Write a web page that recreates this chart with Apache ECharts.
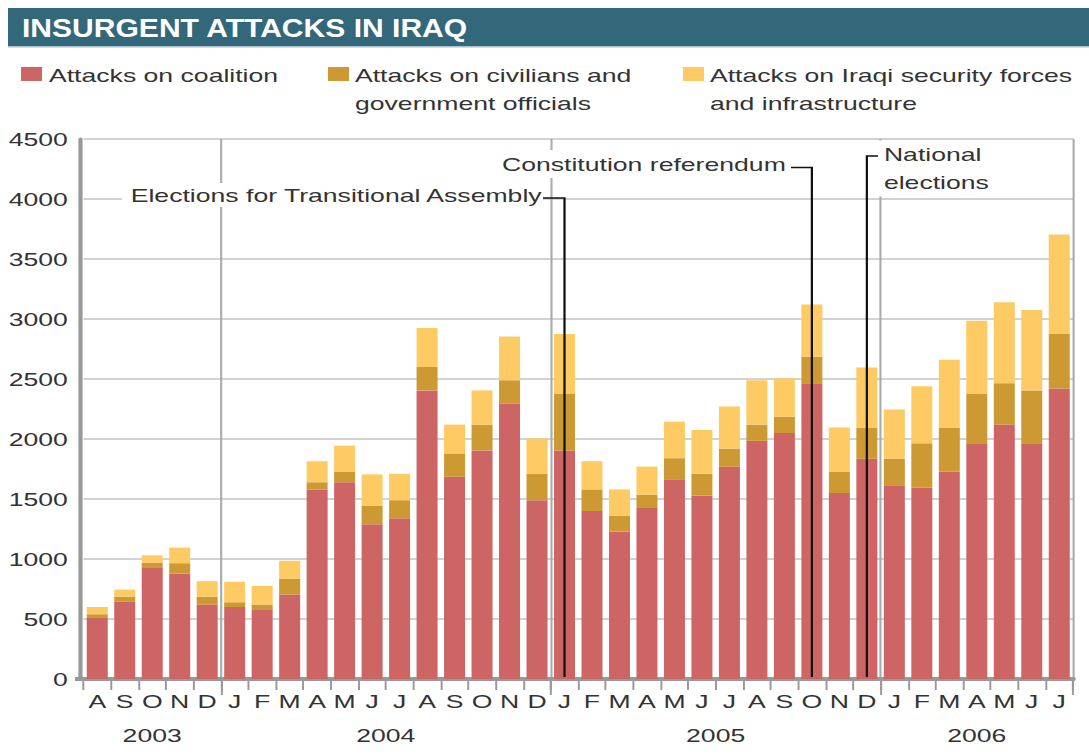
<!DOCTYPE html>
<html><head><meta charset="utf-8">
<script src="https://cdn.jsdelivr.net/npm/echarts@6/dist/echarts.min.js"></script>
<style>
html,body{margin:0;padding:0;background:#fff;overflow:hidden;}
#wrap{width:1089px;height:755px;overflow:hidden;position:relative;}
#chart{width:778px;height:755px;transform:scaleX(1.399743);transform-origin:0 0;}
</style></head><body><div id="wrap"><div id="chart"></div></div>
<script>
// ---------- DATA ----------
const categories = ['2003-08','2003-09','2003-10','2003-11','2003-12',
  '2004-01','2004-02','2004-03','2004-04','2004-05','2004-06','2004-07','2004-08','2004-09','2004-10','2004-11','2004-12',
  '2005-01','2005-02','2005-03','2005-04','2005-05','2005-06','2005-07','2005-08','2005-09','2005-10','2005-11','2005-12',
  '2006-01','2006-02','2006-03','2006-04','2006-05','2006-06','2006-07'];
const monthLabels = ['A','S','O','N','D',
  'J','F','M','A','M','J','J','A','S','O','N','D',
  'J','F','M','A','M','J','J','A','S','O','N','D',
  'J','F','M','A','M','J','J'];
const coalition = [515,645,925,880,620, 600,575,705,1580,1640,1290,1340,2405,1685,1905,2295,1490,
  1905,1400,1230,1425,1665,1530,1770,1985,2050,2465,1550,1835, 1615,1595,1730,1965,2120,1965,2420];
const civilians = [25,40,45,85,65, 40,45,130,60,85,155,150,195,195,215,195,220,
  470,180,130,110,175,180,150,135,135,220,175,260, 220,370,365,415,345,440,455];
const iraqiForces = [60,60,60,130,130, 170,155,150,175,220,260,220,325,240,285,365,295,
  500,235,220,235,305,365,350,370,320,435,370,500, 410,475,565,605,675,670,830];
const yearLabels = ['2003','2004','2005','2006'];
const yearStarts = [0,5,17,29];
const seriesNames = ['Attacks on coalition','Attacks on civilians and\ngovernment officials','Attacks on Iraqi security forces\nand infrastructure'];
const eventLabels = ['Elections for Transitional Assembly','Constitution referendum','National\nelections'];
const eventIndex = [17,26,28];
const yTicks = {min:0, max:4500, interval:500};
const titleText = 'INSURGENT ATTACKS IN IRAQ';

// ---------- LAYOUT ----------
const W = 778, S = 1089 / W;
const X = o => o / S;
const FONT = '"Liberation Sans", Arial, sans-serif';
const colors = ['#CD6565','#CC9933','#FECA63'];

const chart = echarts.init(document.getElementById('chart'), null, {renderer:'svg', width:W, height:755});

const option = {
  animation:false,
  textStyle:{fontFamily:FONT},
  grid:{left:X(83.5), right:W - X(1073), top:139, bottom:76, containLabel:false, outerBoundsMode:'none'},
  xAxis:[{
    type:'category', data:categories, boundaryGap:true,
    axisLine:{show:true, lineStyle:{color:'#999', width:4}},
    axisTick:{show:true, length:11, lineStyle:{color:'#999', width:1.4}},
    axisLabel:{interval:0, formatter:(v,i)=>monthLabels[i], color:'#333', fontSize:19, margin:13, fontFamily:FONT},
    splitLine:{show:false}
  },{
    type:'category', data:categories, position:'bottom', boundaryGap:true,
    axisLine:{show:false},
    axisTick:{show:true, length:16, interval:(i)=>yearStarts.indexOf(i)>0, lineStyle:{color:'#999', width:1.4}},
    axisLabel:{show:false},
    splitLine:{show:true, interval:(i)=>yearStarts.indexOf(i)>0, lineStyle:{color:'#aaa', width:1.5}}
  }],
  yAxis:{
    type:'value', min:yTicks.min, max:yTicks.max, interval:yTicks.interval,
    offset:X(83.5)-X(80.5),
    axisLine:{show:true, lineStyle:{color:'#999', width:3}},
    axisTick:{show:false},
    axisLabel:{color:'#333', fontSize:19, margin:9, fontFamily:FONT, formatter:v=>String(v)},
    splitLine:{show:true, lineStyle:{color:'#d2d2d2', width:2}}
  },
  series:[
    {name:seriesNames[0], type:'bar', stack:'a', data:coalition, barWidth:X(21), itemStyle:{color:colors[0]}},
    {name:seriesNames[1], type:'bar', stack:'a', data:civilians, barWidth:X(21), itemStyle:{color:colors[1]}},
    {name:seriesNames[2], type:'bar', stack:'a', data:iraqiForces, barWidth:X(21), itemStyle:{color:colors[2]}}
  ]
};
chart.setOption(option);

// ---------- GRAPHICS (title, legend, year labels, annotations) ----------
const px = i => chart.convertToPixel({xAxisIndex:0}, i);
const y0 = chart.convertToPixel({yAxisIndex:0}, 0);
const g = [];
// title bar
g.push({type:'rect', shape:{x:X(8), y:8, width:W - X(8), height:38}, style:{fill:'#33677A'}, z:10});
g.push({type:'rect', shape:{x:X(8), y:46, width:W - X(8), height:1.5}, style:{fill:'#A9C1CB'}, z:10});
g.push({type:'text', z:11, x:X(22), y:28, scaleX:0.826, style:{text:titleText, x:0, y:0, fill:'#fff', font:'bold 26px "Liberation Sans", sans-serif', align:'left', verticalAlign:'middle'}});
// legend
const legX = [[21,49],[328,355],[683,710]];
seriesNames.forEach((n,k)=>{
  g.push({type:'rect', shape:{x:X(legX[k][0]), y:67, width:X(21), height:14}, style:{fill:colors[k]}, z:10});
  g.push({type:'text', z:10, style:{text:n, x:X(legX[k][1]), y:61, fill:'#333', font:'19px '+FONT, lineHeight:28, align:'left', verticalAlign:'top'}});
});
// year labels
yearStarts.forEach((s,k)=>{
  const e = (k+1<yearStarts.length ? yearStarts[k+1] : categories.length) - 1;
  const cx = (px(s)+px(e))/2;
  g.push({type:'text', z:10, style:{text:yearLabels[k], x:cx, y:735, fill:'#333', font:'19px '+FONT, align:'center', verticalAlign:'middle'}});
});
// x-axis line extension to the left
g.push({type:'rect', shape:{x:X(75), y:y0-2, width:X(84)-X(75), height:4}, style:{fill:'#999'}, z:10});
// annotations
const ax = eventIndex.map(px);
const lineStyle = {stroke:'#111', lineWidth:1.6, fill:null};
g.push({type:'text', z:50, style:{text:eventLabels[0], x:X(543), y:195, fill:'#333', font:'19px '+FONT, align:'right', verticalAlign:'middle', backgroundColor:'#fff', padding:[2,1,3,5]}});
g.push({type:'polyline', z:51, shape:{points:[[X(543),198],[ax[0],198],[ax[0],y0-2]]}, style:lineStyle});
g.push({type:'text', z:52, style:{text:eventLabels[1], x:X(790), y:164, fill:'#333', font:'19px '+FONT, align:'right', verticalAlign:'middle', backgroundColor:'#fff', padding:[1,3,8,4]}});
g.push({type:'polyline', z:51, shape:{points:[[X(791),167.5],[ax[1],167.5],[ax[1],y0-2]]}, style:lineStyle});
g.push({type:'text', z:50, style:{text:eventLabels[2], x:X(879), y:168.5, fill:'#333', font:'19px '+FONT, lineHeight:28, align:'left', verticalAlign:'middle', backgroundColor:'#fff', padding:[0,2,0,3.5]}});
g.push({type:'polyline', z:51, shape:{points:[[X(878),156],[ax[2],156],[ax[2],y0-2]]}, style:lineStyle});

chart.setOption({graphic:{elements:g}});
</script></body></html>
